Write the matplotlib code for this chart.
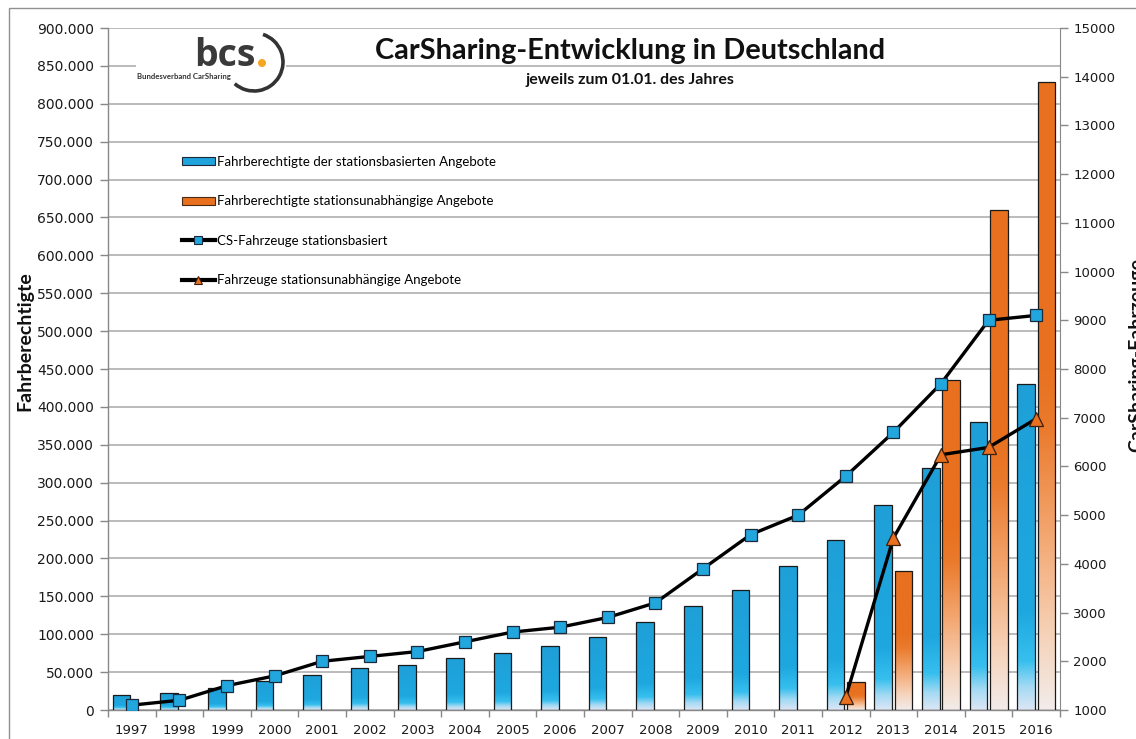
import numpy as np
import matplotlib
matplotlib.use("Agg")
import matplotlib.pyplot as plt
from matplotlib.patches import Patch, Rectangle, Arc, Ellipse
from matplotlib.lines import Line2D
from matplotlib.ticker import FuncFormatter, MultipleLocator

# ---------------- data ----------------
years = [1997, 1998, 1999, 2000, 2001, 2002, 2003, 2004, 2005, 2006,
         2007, 2008, 2009, 2010, 2011, 2012, 2013, 2014, 2015, 2016]
berechtigte_stationsbasiert = [20000, 22000, 29000, 38000, 46500, 56000, 60000, 69000, 75500, 84000,
                               96000, 116000, 137000, 158000, 190000, 224000, 270000, 319000, 380000, 430000]
berechtigte_free_floating = [0, 0, 0, 0, 0, 0, 0, 0, 0, 0,
                             0, 0, 0, 0, 0, 37000, 183000, 436000, 660000, 829000]
fahrzeuge_stationsbasiert = [1100, 1200, 1500, 1700, 2000, 2100, 2200, 2400, 2600, 2700,
                             2900, 3200, 3900, 4600, 5000, 5800, 6700, 7700, 9000, 9100]
ff_years = [2012, 2013, 2014, 2015, 2016]
fahrzeuge_free_floating = [1270, 4530, 6240, 6390, 6980]

legend_labels = ["Fahrberechtigte der stationsbasierten Angebote",
                 "Fahrberechtigte stationsunabhängige Angebote",
                 "CS-Fahrzeuge stationsbasiert",
                 "Fahrzeuge stationsunabhängige Angebote"]

W, H = 1136, 739
fig = plt.figure(figsize=(W / 100, H / 100), dpi=100)
fig.patch.set_facecolor("white")

L, R, T, B = 108, 1060, 28, 710
ax = fig.add_axes([L / W, 1 - B / H, (R - L) / W, (B - T) / H])
ax2 = ax.twinx()

x = np.arange(len(years))
bw = 0.37
off = 0.215

BLUE = "#1FA3DC"
ORANGE = "#E8701E"
EDGE = "#1a1a1a"


def hex2rgb(h):
    h = h.lstrip("#")
    return np.array([int(h[i:i + 2], 16) / 255 for i in (0, 2, 4)])


def gradient(stops, n=300):
    t = np.linspace(0, 1, n)
    pos = [s[0] for s in stops]
    cols = np.array([hex2rgb(s[1]) for s in stops])
    img = np.zeros((n, 1, 3))
    for c in range(3):
        img[:, 0, c] = np.interp(t, pos, cols[:, c])
    return img


blue_grad = gradient([(0.0, "#DCE6F4"), (0.07, "#A5DAF4"), (0.15, "#36BFEE"),
                      (0.3, "#1FA8E0"), (1.0, "#1E9FD8")])
orange_grad = gradient([(0.0, "#F2ECEA"), (0.12, "#F6D2B8"), (0.28, "#F3A670"),
                        (0.45, "#EA7A2C"), (0.55, "#E8711F"), (1.0, "#E8701E")])

bars_b = ax.bar(x - off, berechtigte_stationsbasiert, width=bw, facecolor="none",
                edgecolor=EDGE, linewidth=0.9, zorder=3)
bars_o = ax.bar(x + off, berechtigte_free_floating, width=bw, facecolor="none",
                edgecolor=EDGE, linewidth=0.9, zorder=3)

for bars, grad in ((bars_b, blue_grad), (bars_o, orange_grad)):
    for rect in bars:
        h = rect.get_height()
        if h <= 0:
            rect.set_visible(False)
            continue
        x0 = rect.get_x()
        im = ax.imshow(grad, extent=(x0, x0 + rect.get_width(), 0, h), origin="lower",
                       aspect="auto", interpolation="bilinear", zorder=2.5)
        im.set_clip_path(rect)

ax.set_xlim(-0.5, len(years) - 0.5)
ax.set_ylim(0, 900000)
ax.yaxis.set_major_locator(MultipleLocator(50000))


def de_fmt(v, pos):
    return f"{int(round(v)):,}".replace(",", ".")


ax.yaxis.set_major_formatter(FuncFormatter(de_fmt))
ax.grid(axis="y", color="#A8A8A8", linewidth=1.1, zorder=0)
ax.set_axisbelow(True)

ax.set_xticks(x)
ax.set_xticklabels([str(y) for y in years])
ax.set_xticks(np.arange(-0.5, len(years)), minor=True)
ax.tick_params(axis="x", which="major", length=0, pad=10, labelsize=9.5, labelcolor="#1a1a1a")
ax.tick_params(axis="x", which="minor", length=5, color="#888888", width=1)
ax.tick_params(axis="y", length=6, color="#888888", width=1, labelsize=10,
               labelcolor="#1a1a1a", pad=4)

for s in ("top", "right"):
    ax.spines[s].set_visible(False)
for s in ("left", "bottom"):
    ax.spines[s].set_color("#888888")
    ax.spines[s].set_linewidth(1)

# right axis lines
ax2.set_ylim(1000, 15000)
ax2.yaxis.set_major_locator(MultipleLocator(1000))
ax2.tick_params(axis="y", length=5.5, color="#888888", width=1, labelsize=9.5,
                labelcolor="#1a1a1a", pad=4)
for s in ("top", "left", "bottom"):
    ax2.spines[s].set_visible(False)
ax2.spines["right"].set_color("#888888")

ax2.plot(x, fahrzeuge_stationsbasiert, color="black", linewidth=2.4, marker="s",
         markersize=9, markerfacecolor="#22A6DE", markeredgecolor="#1a2a3a",
         markeredgewidth=0.9, zorder=5)
ff_x = [years.index(y) for y in ff_years]
ax2.plot(ff_x, fahrzeuge_free_floating, color="black", linewidth=2.4, marker="^",
         markersize=9.5, markerfacecolor="#E8701E", markeredgecolor="#3a2010",
         markeredgewidth=0.9, zorder=5)

# legend
handles = [Patch(facecolor=BLUE, edgecolor="#1a2a3a", linewidth=0.8),
           Patch(facecolor=ORANGE, edgecolor="#4a2a10", linewidth=0.8),
           Line2D([], [], color="black", linewidth=3, marker="s", markersize=6,
                  markerfacecolor="#22A6DE", markeredgecolor="#1a2a3a", markeredgewidth=0.8),
           Line2D([], [], color="black", linewidth=3, marker="^", markersize=6,
                  markerfacecolor="#E8701E", markeredgecolor="#3a2010", markeredgewidth=0.8)]
leg = ax2.legend(handles, legend_labels, loc="upper left",
                 bbox_to_anchor=((182 - L) / (R - L), (B - 156) / (B - T)),
                 frameon=False, prop={"family": "Lato", "size": 9.5},
                 handlelength=2.5, handleheight=0.55, handletextpad=0.15,
                 labelspacing=2.07, borderpad=0, borderaxespad=0, numpoints=1)

# axis titles
fig.text(25 / W, 1 - 341 / H, "Fahrberechtigte", rotation=90, ha="center", va="center",
         fontsize=14, family="Lato", fontweight="bold", color="#111111")
fig.text(1137 / W, 1 - 355 / H, "CarSharing-Fahrzeuge", rotation=90, ha="center",
         va="center", fontsize=14, family="Lato", fontweight="bold", color="#111111")

# title
fig.text(630 / W, 1 - 51 / H, "CarSharing-Entwicklung in Deutschland", ha="center",
         va="center", fontsize=20.8, family="Lato", fontweight="bold", color="#111111")
fig.text(630 / W, 1 - 80 / H, "jeweils zum 01.01. des Jahres", ha="center", va="center",
         fontsize=11.5, family="Lato", fontweight="bold", color="#111111")

# logo
fig.add_artist(Rectangle((136 / W, 1 - 97 / H), (150) / W, 66 / H, transform=fig.transFigure,
                         facecolor="white", edgecolor="none", zorder=5))
fig.text(225 / W, 1 - 66 / H, "bcs", ha="center", va="baseline", fontsize=27,
         family="Open Sans", fontweight="bold", color="#3a3a3a", zorder=6)
fig.add_artist(Ellipse((262 / W, 1 - 63 / H), 8 / W, 8 / H, transform=fig.transFigure,
                       facecolor="#F5A623", edgecolor="none", zorder=6))
fig.add_artist(Arc((254 / W, 1 - 62 / H), 58 / W, 58 / H, theta1=-120, theta2=78,
                   transform=fig.transFigure, color="#333333", linewidth=2.6, zorder=6))
fig.text(137 / W, 1 - 79 / H, "Bundesverband CarSharing", ha="left", va="baseline",
         fontsize=5.6, family="Lato", fontweight="bold", color="#333333", zorder=6)

# outer border
fig.add_artist(Rectangle((9 / W, -0.2), 1.5, 1.2 - 8 / H, transform=fig.transFigure,
                         facecolor="none", edgecolor="#909090", linewidth=1, zorder=0))

fig.savefig("out.png", dpi=100)
